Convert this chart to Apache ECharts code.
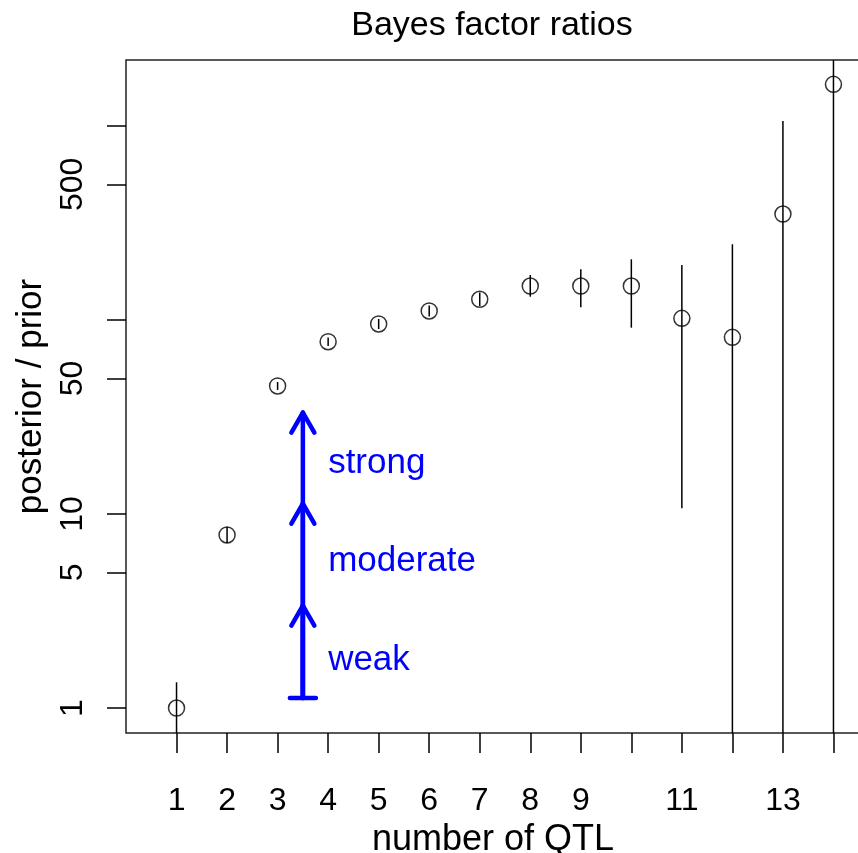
<!DOCTYPE html>
<html><head><meta charset="utf-8">
<script src="https://cdn.jsdelivr.net/npm/echarts@6/dist/echarts.min.js"></script>
<style>html,body{margin:0;padding:0;background:#fff}#c{width:858px;height:853px}</style>
</head><body><div id="c"></div>
<script>
// ---- data ----
const qtl    = [1, 2, 3, 4, 5, 6, 7, 8, 9, 10, 11, 12, 13, 14];
const ratio  = [1.0, 7.8, 45.7, 77.3, 95.4, 111.3, 127.9, 149.7, 149.7, 149.7, 102.0, 81.4, 351.8, 1640];
const upper  = [1.357, 8.57, 47.9, 81.3, 101.2, 118.8, 138.6, 170.6, 182.5, 205.6, 192.1, 245.6, 1061, 5000];
const lower  = [0.64, 7.09, 43.6, 73.5, 89.9, 104.3, 118.1, 131.9, 116.3, 91.3, 10.7, 0.1, 0.1, 0.1];
const xTickValues  = [1, 2, 3, 4, 5, 6, 7, 8, 9, 10, 11, 12, 13, 14];
const xLabelValues = [1, 2, 3, 4, 5, 6, 7, 8, 9, 11, 13];
const yTickValues  = [1, 5, 10, 50, 100, 500, 1000];
const yLabelValues = [1, 5, 10, 50, 500];
const arrowX = 3.5;
const arrowBase = 1.125;
const arrowTips = [3.37, 11.3, 33.3];
const strengthLabels = ['weak', 'moderate', 'strong'];
const strengthLabelY = [1.77, 5.68, 18.2];
const strengthLabelX = 4;

const FONT = 'Liberation Sans, Arial, Helvetica, sans-serif';
const BLUE = '#0000ff';

const chart = echarts.init(document.getElementById('c'), null, {renderer: 'canvas'});

function clampY(y, cs) { return Math.min(Math.max(y, cs.y), cs.y + cs.height); }

const option = {
  animation: false,
  backgroundColor: '#fff',
  title: {
    text: 'Bayes factor ratios',
    left: 492, top: 9, padding: 0, textAlign: 'center',
    textStyle: {fontFamily: FONT, fontSize: 34, fontWeight: 'normal', color: '#000'}
  },
  grid: {
    left: 126, top: 60, width: 758, height: 673,
    outerBoundsMode: 'none',
    show: true, borderColor: '#222', borderWidth: 1.5, backgroundColor: 'transparent',
    containLabel: false
  },
  xAxis: {
    type: 'value', min: 0, max: 15,
    name: 'number of QTL', nameLocation: 'middle', nameGap: 88,
    nameTextStyle: {fontFamily: FONT, fontSize: 36, color: '#000', padding: [0, 24, 0, 0]},
    axisLine: {show: false},
    axisTick: {show: true, inside: false, length: 20, customValues: xTickValues,
               lineStyle: {color: '#000', width: 1.5}},
    axisLabel: {customValues: xLabelValues, margin: 52, fontFamily: FONT, fontSize: 32, color: '#000'},
    splitLine: {show: false}
  },
  yAxis: {
    type: 'log', logBase: 10, min: 0.7434, max: 2189,
    name: 'posterior / prior', nameLocation: 'middle', nameGap: 62, nameRotate: 90,
    nameTextStyle: {fontFamily: FONT, fontSize: 35, color: '#000'},
    axisLine: {show: false},
    axisTick: {show: true, inside: false, length: 19, customValues: yTickValues,
               lineStyle: {color: '#000', width: 1.5}},
    axisLabel: {customValues: yLabelValues, rotate: 90, margin: 37, fontFamily: FONT, fontSize: 32, color: '#000',
                formatter: v => String(Math.round(v))},
    splitLine: {show: false}
  },
  series: [
    {
      type: 'custom', silent: true,
      data: qtl.map((q, i) => [q, lower[i], upper[i]]),
      encode: {x: 0, y: [1, 2]},
      renderItem: function (params, api) {
        const cs = params.coordSys;
        const x = api.value(0);
        const p1 = api.coord([x, api.value(1)]);
        const p2 = api.coord([x, api.value(2)]);
        return {
          type: 'line',
          shape: {x1: p1[0], y1: clampY(p1[1], cs), x2: p2[0], y2: clampY(p2[1], cs)},
          style: {stroke: '#000', lineWidth: 1.5}
        };
      }
    },
    {
      type: 'scatter', silent: true,
      data: qtl.map((q, i) => [q, ratio[i]]),
      symbol: 'circle', symbolSize: 16,
      itemStyle: {color: 'rgba(0,0,0,0)', borderColor: '#000', borderWidth: 1.5}
    },
    {
      type: 'custom', silent: true,
      data: arrowTips.map(t => [arrowX, arrowBase, t]),
      encode: {x: 0, y: [1, 2]},
      renderItem: function (params, api) {
        const x = api.value(0);
        const b = api.coord([x, api.value(1)]);
        const t = api.coord([x, api.value(2)]);
        const armDx = 11.5, armDy = 20;
        const st = {stroke: BLUE, lineWidth: 4.5, lineCap: 'round'};
        const children = [
          {type: 'line', shape: {x1: b[0], y1: b[1], x2: t[0], y2: t[1]}, style: st},
          {type: 'line', shape: {x1: t[0], y1: t[1], x2: t[0] - armDx, y2: t[1] + armDy}, style: st},
          {type: 'line', shape: {x1: t[0], y1: t[1], x2: t[0] + armDx, y2: t[1] + armDy}, style: st}
        ];
        if (params.dataIndex === 0) {
          children.push({type: 'line', shape: {x1: b[0] - 13, y1: b[1], x2: b[0] + 13, y2: b[1]}, style: st});
        }
        return {type: 'group', children: children};
      }
    },
    {
      type: 'custom', silent: true,
      data: strengthLabels.map((s, i) => [strengthLabelX, strengthLabelY[i]]),
      encode: {x: 0, y: 1},
      renderItem: function (params, api) {
        const p = api.coord([api.value(0), api.value(1)]);
        return {
          type: 'text',
          style: {text: strengthLabels[params.dataIndex], x: p[0], y: p[1],
                  fill: BLUE, fontFamily: FONT, fontSize: 35, align: 'left', verticalAlign: 'middle'}
        };
      }
    }
  ]
};
chart.setOption(option);
</script>
</body></html>
